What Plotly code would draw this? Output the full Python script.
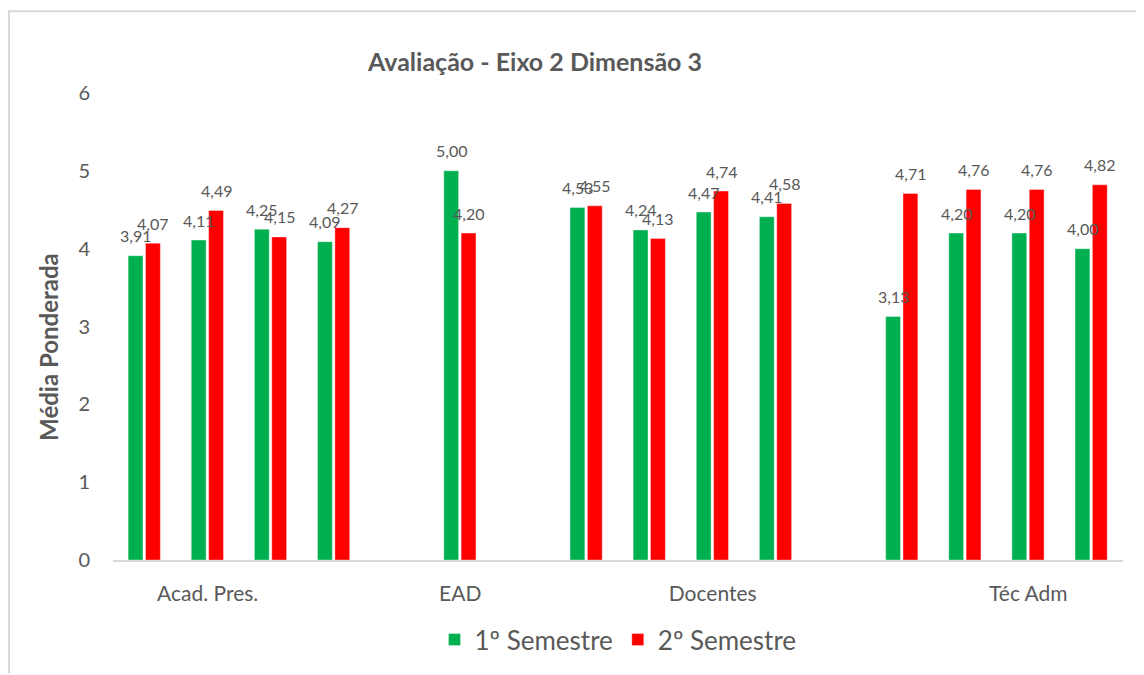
import plotly.graph_objects as go

# ---- data ----
groups = ["Acad. Pres.", "EAD", "Docentes", "Téc Adm"]
sem1 = [[3.91, 4.11, 4.25, 4.09], [5.00], [4.53, 4.24, 4.47, 4.41], [3.13, 4.20, 4.20, 4.00]]
sem2 = [[4.07, 4.49, 4.15, 4.27], [4.20], [4.55, 4.13, 4.74, 4.58], [4.71, 4.76, 4.76, 4.82]]
label_slot_in_group = [1, 0, 2, 2]
series_names = ["1º Semestre", "2º Semestre"]
colors = ["#00B050", "#FF0000"]

def fmt(v):
    return f"{v:.2f}".replace(".", ",")

# slot positions (one blank slot between groups)
xs, v1, v2, tickvals = [], [], [], []
pos = 0
for gi, g in enumerate(groups):
    start = pos
    for a, b in zip(sem1[gi], sem2[gi]):
        xs.append(pos); v1.append(a); v2.append(b)
        pos += 1
    tickvals.append(start + label_slot_in_group[gi])
    pos += 1

W = 0.235
offsets = [-0.26, 0.015]
GRAY = "#595959"
FONT = "Lato"

# page offset of the plotly div (body margin)
OFF = 8
FW, FH = 1144 - OFF, 675 - OFF
PL, PR, PT, PB = 113 - OFF, 1123 - OFF, 93 - OFF, 562 - OFF  # plot area in figure px
PW, PH = PR - PL, PB - PT

def px_x(px):  # page px -> paper x
    return (px - OFF - PL) / PW

def px_y(py):  # page px -> paper y
    return (PB - (py - OFF)) / PH

fig = go.Figure()
annotations = []
for name, vals, col, off in zip(series_names, [v1, v2], colors, offsets):
    fig.add_trace(go.Bar(
        x=xs, y=vals, name=name, width=W, offset=off,
        marker=dict(color=col, line=dict(color="rgba(255,255,255,0.6)", width=0.6)),
    ))
    for x, v in zip(xs, vals):
        annotations.append(dict(
            x=x + off + W / 2, y=v, xref="x", yref="y", text=fmt(v),
            showarrow=False, yanchor="middle", yshift=20,
            font=dict(family=FONT, size=16, color=GRAY),
        ))

annotations.append(dict(
    text="<b>Média Ponderada</b>", textangle=-90, xref="paper", yref="paper",
    x=px_x(49), y=px_y(348), showarrow=False,
    xanchor="center", yanchor="middle",
    font=dict(family=FONT, size=24, color=GRAY),
))

fig.update_layout(
    width=FW, height=FH,
    paper_bgcolor="white", plot_bgcolor="white",
    margin=dict(l=PL, r=FW - PR, t=PT, b=FH - PB),
    barmode="overlay",
    title=dict(text="<b>Avaliação - Eixo 2 Dimensão 3</b>", x=(535 - OFF) / FW, xanchor="center",
               xref="container", y=1 - (62 - OFF) / FH, yanchor="middle",
               font=dict(family=FONT, size=25, color=GRAY)),
    xaxis=dict(range=[-0.5, pos - 1.5], tickvals=tickvals, ticktext=groups,
               showgrid=False, zeroline=False, showline=True, linecolor="#D9D9D9", linewidth=1.5,
               ticks="", ticklabelstandoff=14,
               tickfont=dict(family=FONT, size=21, color=GRAY)),
    yaxis=dict(range=[0, 6], dtick=1, showgrid=False, zeroline=False, showline=False,
               ticks="", ticklabelstandoff=22,
               tickfont=dict(family=FONT, size=20, color=GRAY)),
    legend=dict(orientation="h", x=0.5, xanchor="center", y=px_y(642), yanchor="middle",
                font=dict(family=FONT, size=26, color=GRAY), traceorder="normal"),
    annotations=annotations,
    shapes=[
        dict(type="line", xref="paper", yref="paper", x0=px_x(8), x1=px_x(1144),
             y0=px_y(11), y1=px_y(11), line=dict(color="#D9D9D9", width=2)),
        dict(type="line", xref="paper", yref="paper", x0=px_x(9), x1=px_x(9),
             y0=px_y(11), y1=px_y(676), line=dict(color="#D9D9D9", width=2)),
    ],
)

fig.write_html("out.html")
